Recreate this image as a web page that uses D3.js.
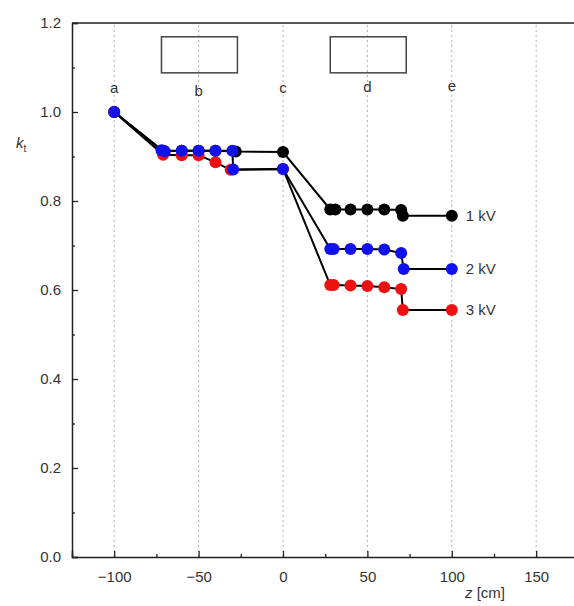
<!DOCTYPE html>
<html><head><meta charset="utf-8">
<script src="https://cdn.jsdelivr.net/npm/d3@7"></script>
<style>body{margin:0;background:#fff}svg{display:block}text{font-family:"Liberation Sans",Arial,sans-serif;fill:#333}</style>
</head><body><svg id="c" width="574" height="606"></svg>
<script>
// data
const z1 = [-100, -71, -60, -50, -40, -28, 0, 28, 31, 40, 50, 60, 70, 71, 100];
const k1 = [1.0, 0.913, 0.913, 0.913, 0.913, 0.911, 0.910, 0.781, 0.781, 0.781, 0.781, 0.781, 0.780, 0.767, 0.767];
const z3 = [-100, -71, -60, -50, -40, -31, 0, 28, 30, 40, 50, 60, 70, 71, 100];
const k3 = [1.0, 0.904, 0.903, 0.903, 0.887, 0.870, 0.872, 0.611, 0.611, 0.610, 0.609, 0.606, 0.602, 0.555, 0.555];
const z2 = [-100, -72, -70, -60, -50, -40, -30, -29.5, 0, 28, 30, 40, 50, 60, 70, 71.5, 100];
const k2 = [1.0, 0.914, 0.912, 0.913, 0.913, 0.913, 0.913, 0.871, 0.872, 0.692, 0.692, 0.692, 0.692, 0.691, 0.683, 0.647, 0.647];
const seriesNames = ["1 kV", "3 kV", "2 kV"];
const seriesColors = ["#000000", "#ee1111", "#1111ee"];
const xTicks = [-100, -50, 0, 50, 100, 150];
const xMinor = [-125, -75, -25, 25, 75, 125, 175];
const yTicks = [0, 0.2, 0.4, 0.6, 0.8, 1.0, 1.2];
const yMinor = [0.1, 0.3, 0.5, 0.7, 0.9, 1.1];
const posLabels = ["a", "b", "c", "d", "e"];
const posZ = [-100, -50, 0, 50, 100];
const posK = [1.054, 1.047, 1.054, 1.056, 1.060];
const boxZ = [[-72, -27], [28, 73]];
const boxK = [1.088, 1.169];

const svg = d3.select("#c");
const x = d3.scaleLinear().domain([-125, 175]).range([72, 578.4]);
const y = d3.scaleLinear().domain([0, 1.2]).range([557, 23]);

// grid
svg.append("g").selectAll("line").data(xTicks).join("line")
  .attr("x1", d => x(d)).attr("x2", d => x(d)).attr("y1", y(0)).attr("y2", y(1.2))
  .attr("stroke", "#b0b0b0").attr("stroke-width", 1).attr("stroke-dasharray", "2,3");

// axes
const fmtX = d => d < 0 ? "\u2212" + Math.abs(d) : String(d);
svg.append("g").attr("transform", `translate(0,${y(0)})`)
  .call(d3.axisBottom(x).tickValues(xTicks).tickSize(-6).tickPadding(14).tickFormat(fmtX));
svg.append("g").attr("transform", `translate(0,${y(0)})`)
  .call(d3.axisBottom(x).tickValues(xMinor).tickSize(-3).tickFormat(""))
  .select(".domain").remove();
svg.append("g").attr("transform", `translate(${x(-125)},0)`)
  .call(d3.axisLeft(y).tickValues(yTicks).tickSize(-6).tickPadding(11).tickFormat(d3.format(".1f")));
svg.append("g").attr("transform", `translate(${x(-125)},0)`)
  .call(d3.axisLeft(y).tickValues(yMinor).tickSize(-3).tickFormat(""))
  .select(".domain").remove();
svg.selectAll(".domain").attr("stroke", "#222").attr("stroke-width", 1.5);
svg.selectAll(".tick line").attr("stroke", "#222").attr("stroke-width", 1.3);
svg.selectAll(".tick text").attr("font-size", 15).attr("fill", "#333")
  .style("font-family", '"Liberation Sans", Arial, sans-serif');
// top line
svg.append("line").attr("x1", x(-125)).attr("x2", x(175)).attr("y1", y(1.2)).attr("y2", y(1.2))
  .attr("stroke", "#222").attr("stroke-width", 1.5);

// boxes
boxZ.forEach(b => {
  svg.append("rect").attr("x", x(b[0])).attr("y", y(boxK[1]))
    .attr("width", x(b[1]) - x(b[0])).attr("height", y(boxK[0]) - y(boxK[1]))
    .attr("fill", "none").attr("stroke", "#444").attr("stroke-width", 1.5);
});

// position labels
svg.append("g").selectAll("text").data(posLabels).join("text")
  .attr("x", (d, i) => x(posZ[i])).attr("y", (d, i) => y(posK[i]))
  .attr("text-anchor", "middle").attr("dy", "0.35em").attr("font-size", 15).text(d => d);

// series
const series = [[z1, k1], [z3, k3], [z2, k2]];
const line = d3.line().x(d => x(d[0])).y(d => y(d[1]));
series.forEach((s, i) => {
  const pts = s[0].map((v, j) => [v, s[1][j]]);
  svg.append("path").datum(pts).attr("d", line).attr("fill", "none")
    .attr("stroke", "#000").attr("stroke-width", 2);
  svg.append("g").selectAll("circle").data(pts).join("circle")
    .attr("cx", d => x(d[0])).attr("cy", d => y(d[1])).attr("r", 6)
    .attr("fill", seriesColors[i]);
  const last = pts[pts.length - 1];
  svg.append("text").attr("x", x(last[0]) + 14).attr("y", y(last[1])).attr("dy", "0.35em")
    .attr("font-size", 15).text(seriesNames[i]);
});

// axis titles
const yl = svg.append("text").attr("x", 16).attr("y", 148).attr("font-size", 15);
yl.append("tspan").attr("font-style", "italic").text("k");
yl.append("tspan").attr("font-size", 10).attr("dy", 4).text("t");
const xl = svg.append("text").attr("x", 465).attr("y", 598).attr("font-size", 15);
xl.append("tspan").attr("font-style", "italic").text("z");
xl.append("tspan").text(" [cm]");
</script></body></html>
